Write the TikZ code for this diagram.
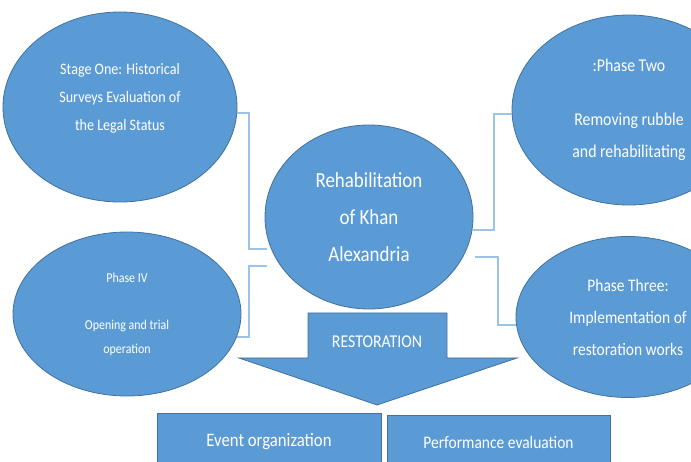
\documentclass[tikz,border=0pt]{standalone}
\usepackage{fontspec}
\setmainfont{Carlito}[FakeStretch=0.88]
\usetikzlibrary{shapes.geometric}
\definecolor{phaseblue}{HTML}{5B9BD5}
\definecolor{phaseedge}{HTML}{41719C}
\definecolor{linkblue}{HTML}{9DC3E6}

\begin{document}
\begin{tikzpicture}[x=1pt, y=-1pt,
	phase/.style={ellipse, draw=phaseedge, fill=phaseblue, text=white, align=center, inner sep=0pt, line width=0.8pt},
	task/.style={rectangle, draw=phaseedge, fill=phaseblue, text=white, inner sep=0pt, line width=0.8pt},
	link/.style={linkblue, line width=2pt}]
				\useasboundingbox (0,0) rectangle (691,462);
				\clip (0,0) rectangle (691,462);
				
				\node[phase, minimum width=234pt, minimum height=190pt, font=\fontsize{16}{28}\selectfont] (S1) at (120,107) {Stage One: Historical\\Surveys Evaluation of\\the Legal Status\\[-8pt]\mbox{}};
				\node[phase, minimum width=234pt, minimum height=190pt, font=\fontsize{18}{32}\selectfont] (P2) at (629,110) {:Phase Two\\[22pt]Removing rubble\\and rehabilitating};
				\node[phase, minimum width=208pt, minimum height=184pt, font=\fontsize{21.5}{37}\selectfont] (C) at (369,217) {Rehabilitation\\of Khan\\Alexandria};
				\node[phase, minimum width=228pt, minimum height=164pt, font=\fontsize{13.6}{24}\selectfont] (P4) at (127,314) {Phase IV\\[23pt]Opening and trial\\operation};
				\node[phase, minimum width=224pt, minimum height=161pt, font=\fontsize{17.6}{32}\selectfont] (P3) at (628,317) {Phase Three:\\Implementation of\\restoration works};
				
				\draw[link] (S1.-3) -- ++(12,0) |- ([xshift=-4pt]C.198);
				\draw[link] (C.-7) -- ++(22,0) |- (P2.182);
				\draw[link] (P4.-12) -- ++(12,0) |- ([xshift=-14pt]C.209);
				\draw[link] ([xshift=12pt]C.-23) -- ++(23,0) |- (P3.184);
				
				\draw[fill=phaseblue, draw=phaseedge, line width=0.8pt] (308,313) -- (447,313) -- (447,358) -- (517,358) -- (377,405) -- (239,358) -- (308,358) -- cycle;
				\node[text=white, font=\fontsize{18}{22}\selectfont] (R) at (377,342) {RESTORATION};
				
				\node[task, minimum width=224pt, minimum height=58pt, font=\fontsize{19}{22}\selectfont] (E1) at (269,442) {Event organization};
				\node[task, minimum width=223pt, minimum height=54pt, font=\fontsize{17.6}{22}\selectfont] (E2) at (498.5,442) {Performance evaluation};
			\end{tikzpicture}
\end{document}
